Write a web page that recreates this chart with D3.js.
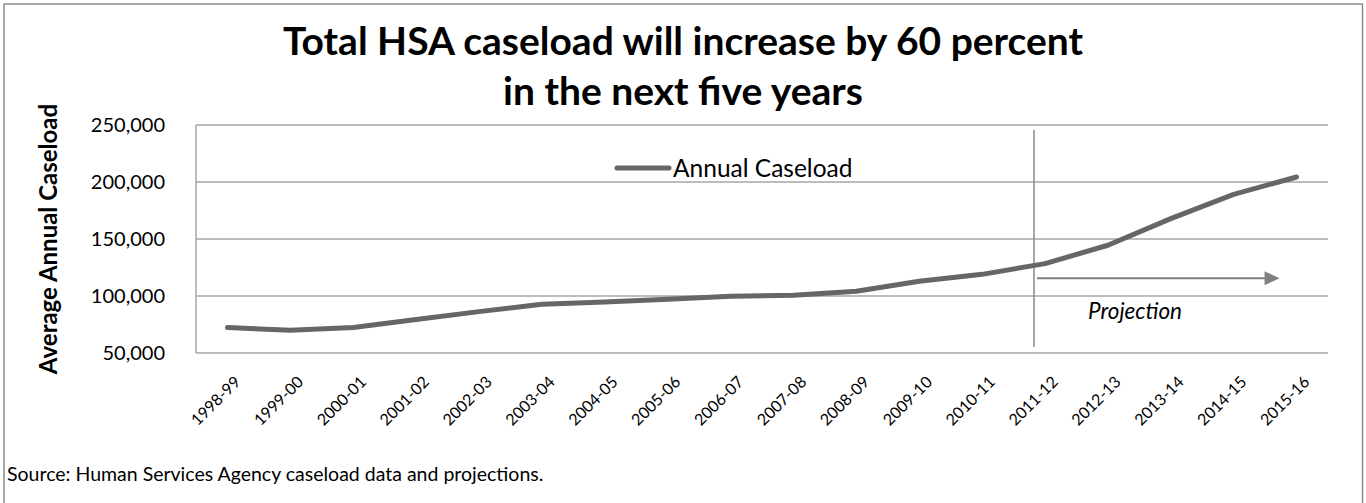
<!DOCTYPE html>
<html>
<head>
<meta charset="utf-8">
<script src="https://cdn.jsdelivr.net/npm/d3@7"></script>
<style>
  html, body { margin: 0; padding: 0; background: #fff; }
  svg { display: block; }
  text { font-family: Lato, "Open Sans", sans-serif; }
</style>
</head>
<body>
<svg id="chart" width="1366" height="503"></svg>
<script>
// ---- Data ----
const categories = ["1998-99","1999-00","2000-01","2001-02","2002-03","2003-04","2004-05","2005-06","2006-07","2007-08","2008-09","2009-10","2010-11","2011-12","2012-13","2013-14","2014-15","2015-16"];
const caseload = [72300, 69900, 72300, 79300, 86300, 92700, 94700, 97100, 99700, 100600, 104100, 112900, 119000, 128400, 144500, 167900, 189200, 204400];
const yTicks = [50000, 100000, 150000, 200000, 250000];
const seriesName = "Annual Caseload";
const projectionStart = "2011-12";
const titleLines = ["Total HSA caseload will increase by 60 percent", "in the next five years"];
const yAxisTitle = "Average Annual Caseload";
const sourceNote = "Source: Human Services Agency caseload data and projections.";

// ---- Layout ----
const W = 1366, H = 503;
const plot = { left: 196, right: 1328, top: 125, bottom: 353 };
const svg = d3.select("#chart");

// outer border
svg.append("rect").attr("x", 4).attr("y", 4).attr("width", W - 7.5).attr("height", H + 10)
  .attr("fill", "none").attr("stroke", "#8c8c8c").attr("stroke-width", 1.5);

const x = d3.scaleBand().domain(categories).range([plot.left, plot.right]);
const y = d3.scaleLinear().domain([50000, 250000]).range([plot.bottom, plot.top]);
const cx = d => x(d) + x.bandwidth() / 2;

// gridlines
svg.append("g").selectAll("line").data(yTicks).join("line")
  .attr("x1", plot.left).attr("x2", plot.right)
  .attr("y1", d => y(d)).attr("y2", d => y(d))
  .attr("stroke", "#a6a6a6").attr("stroke-width", 1.5);

// y axis line
svg.append("line").attr("x1", plot.left).attr("x2", plot.left)
  .attr("y1", plot.top).attr("y2", plot.bottom)
  .attr("stroke", "#a6a6a6").attr("stroke-width", 1.5);

// y tick labels
svg.append("g").selectAll("text").data(yTicks).join("text")
  .attr("x", 165).attr("y", d => y(d)).attr("dy", "0.35em")
  .attr("text-anchor", "end").attr("font-size", 20).attr("fill", "#000")
  .text(d => d3.format(",")(d));

// y axis title
svg.append("text")
  .attr("transform", `translate(57,${(plot.top + plot.bottom) / 2}) rotate(-90)`)
  .attr("text-anchor", "middle").attr("font-size", 24).attr("font-weight", "bold")
  .text(yAxisTitle);

// x labels
svg.append("g").selectAll("text").data(categories).join("text")
  .attr("transform", d => `translate(${cx(d) + 14},${plot.bottom + 30}) rotate(-45)`)
  .attr("text-anchor", "end").attr("font-size", 16).attr("fill", "#000")
  .text(d => d);

// projection divider
const divX = cx(projectionStart) - 11;
svg.append("line").attr("x1", divX).attr("x2", divX)
  .attr("y1", 130).attr("y2", 347)
  .attr("stroke", "#888").attr("stroke-width", 1.5);

// arrow
const arrowY = y(115500);
const arrowEnd = cx("2015-16") - 17;
svg.append("line").attr("x1", divX + 3).attr("x2", arrowEnd - 14)
  .attr("y1", arrowY).attr("y2", arrowY)
  .attr("stroke", "#808080").attr("stroke-width", 2);
svg.append("path")
  .attr("d", `M${arrowEnd - 15},${arrowY - 7} L${arrowEnd},${arrowY} L${arrowEnd - 15},${arrowY + 7} Z`)
  .attr("fill", "#808080");
svg.append("text").attr("x", 1135).attr("y", 319)
  .attr("text-anchor", "middle").attr("font-size", 22.5).attr("font-style", "italic")
  .text("Projection");

// series line
const line = d3.line().x((d, i) => cx(categories[i])).y(d => y(d));
svg.append("path").datum(caseload).attr("d", line)
  .attr("fill", "none").attr("stroke", "#666").attr("stroke-width", 5)
  .attr("stroke-linejoin", "round").attr("stroke-linecap", "round");

// legend
const legY = 168;
svg.append("line").attr("x1", 617).attr("x2", 669).attr("y1", legY).attr("y2", legY)
  .attr("stroke", "#666").attr("stroke-width", 5).attr("stroke-linecap", "round");
svg.append("text").attr("x", 673).attr("y", legY).attr("dy", "0.35em")
  .attr("font-size", 24.5).text(seriesName);

// title
svg.append("g").selectAll("text").data(titleLines).join("text")
  .attr("x", 683).attr("y", (d, i) => 55 + i * 50)
  .attr("text-anchor", "middle").attr("font-size", 39).attr("font-weight", "bold")
  .text(d => d);

// source
svg.append("text").attr("x", 7).attr("y", 481)
  .attr("font-size", 19.5).text(sourceNote);
</script>
</body>
</html>
